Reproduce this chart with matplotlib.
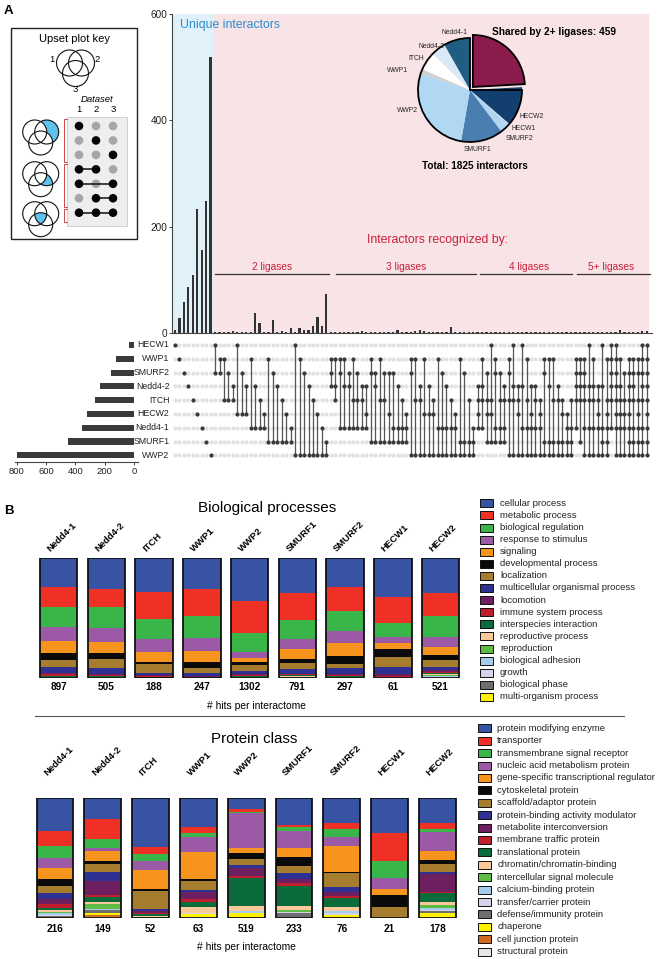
import numpy as np
import matplotlib
matplotlib.use("Agg")
import matplotlib.pyplot as plt
from matplotlib.patches import Rectangle, Circle, Wedge, Polygon

plt.rcParams['font.family'] = ['Liberation Sans', 'DejaVu Sans']

# ---------------- DATA ----------------
ligases = ["HECW1", "WWP1", "SMURF2", "Nedd4-2", "ITCH", "HECW2", "Nedd4-1", "SMURF1", "WWP2"]
set_sizes = [32, 123, 157, 232, 264, 323, 357, 450, 797]
unique_sizes = [5, 29, 59, 86, 109, 233, 156, 248, 519]

shared_sets = [
    # 2 ligases
    "HECW1|SMURF2", "WWP1|SMURF2", "WWP1|ITCH", "SMURF2|ITCH", "Nedd4-2|ITCH",
    "HECW1|HECW2", "SMURF2|HECW2", "Nedd4-2|HECW2", "WWP1|Nedd4-1", "Nedd4-2|Nedd4-1",
    "ITCH|Nedd4-1", "HECW2|Nedd4-1", "WWP1|SMURF1", "SMURF2|SMURF1", "Nedd4-2|SMURF1",
    "ITCH|SMURF1", "HECW2|SMURF1", "Nedd4-1|SMURF1", "HECW1|WWP2", "WWP1|WWP2",
    "SMURF2|WWP2", "Nedd4-2|WWP2", "ITCH|WWP2", "HECW2|WWP2", "Nedd4-1|WWP2", "SMURF1|WWP2",
    # 3 ligases
    "WWP1|SMURF2|Nedd4-2", "WWP1|Nedd4-2|ITCH", "WWP1|SMURF2|Nedd4-1", "WWP1|Nedd4-2|Nedd4-1",
    "SMURF2|Nedd4-2|Nedd4-1", "WWP1|ITCH|Nedd4-1", "SMURF2|ITCH|Nedd4-1", "Nedd4-2|ITCH|Nedd4-1",
    "Nedd4-2|HECW2|Nedd4-1", "WWP1|SMURF2|SMURF1", "SMURF2|Nedd4-2|SMURF1", "WWP1|ITCH|SMURF1",
    "SMURF2|ITCH|SMURF1", "SMURF2|HECW2|SMURF1", "SMURF2|Nedd4-1|SMURF1", "Nedd4-2|Nedd4-1|SMURF1",
    "ITCH|Nedd4-1|SMURF1", "HECW2|Nedd4-1|SMURF1", "WWP1|SMURF2|WWP2", "WWP1|ITCH|WWP2",
    "Nedd4-2|ITCH|WWP2", "WWP1|HECW2|WWP2", "Nedd4-2|HECW2|WWP2", "ITCH|HECW2|WWP2",
    "WWP1|Nedd4-1|WWP2", "SMURF2|Nedd4-1|WWP2", "Nedd4-2|Nedd4-1|WWP2", "ITCH|Nedd4-1|WWP2",
    "HECW2|Nedd4-1|WWP2", "WWP1|SMURF1|WWP2", "SMURF2|SMURF1|WWP2", "ITCH|SMURF1|WWP2",
    "Nedd4-1|SMURF1|WWP2",
    # 4 ligases
    "Nedd4-2|ITCH|HECW2|Nedd4-1", "WWP1|Nedd4-2|ITCH|Nedd4-1", "SMURF2|ITCH|HECW2|SMURF1",
    "HECW1|ITCH|HECW2|SMURF1", "WWP1|SMURF2|Nedd4-1|SMURF1", "SMURF2|ITCH|Nedd4-1|SMURF1",
    "Nedd4-2|ITCH|Nedd4-1|SMURF1", "WWP1|SMURF2|ITCH|WWP2", "HECW1|Nedd4-2|ITCH|WWP2",
    "Nedd4-2|ITCH|HECW2|WWP2", "HECW1|Nedd4-2|Nedd4-1|WWP2", "WWP1|ITCH|Nedd4-1|WWP2",
    "Nedd4-2|HECW2|Nedd4-1|WWP2", "Nedd4-2|ITCH|Nedd4-1|WWP2", "ITCH|HECW2|Nedd4-1|WWP2",
    "WWP1|SMURF2|SMURF1|WWP2", "WWP1|Nedd4-2|SMURF1|WWP2", "WWP1|ITCH|SMURF1|WWP2",
    "Nedd4-2|ITCH|SMURF1|WWP2", "ITCH|HECW2|SMURF1|WWP2", "HECW2|Nedd4-1|SMURF1|WWP2",
    "ITCH|Nedd4-1|SMURF1|WWP2",
    # 5+ ligases
    "WWP1|SMURF2|Nedd4-2|ITCH|Nedd4-1", "WWP1|SMURF2|Nedd4-2|ITCH|SMURF1",
    "WWP1|SMURF2|Nedd4-2|ITCH|Nedd4-1|WWP2", "HECW1|Nedd4-2|ITCH|Nedd4-1|WWP2",
    "WWP1|Nedd4-2|ITCH|Nedd4-1|WWP2", "Nedd4-2|ITCH|HECW2|Nedd4-1|WWP2",
    "HECW1|Nedd4-2|Nedd4-1|SMURF1|WWP2", "WWP1|ITCH|HECW2|Nedd4-1|SMURF1|WWP2",
    "HECW1|WWP1|SMURF2|Nedd4-2|ITCH|Nedd4-1", "HECW1|WWP1|SMURF2|Nedd4-2|ITCH|HECW2|Nedd4-1|WWP2",
    "WWP1|Nedd4-2|ITCH|HECW2|Nedd4-1|WWP2", "SMURF2|ITCH|HECW2|Nedd4-1|WWP2",
    "WWP1|SMURF2|Nedd4-2|ITCH|HECW2|Nedd4-1|SMURF1|WWP2", "WWP1|SMURF2|Nedd4-2|ITCH|Nedd4-1|SMURF1|WWP2",
    "WWP1|SMURF2|ITCH|HECW2|Nedd4-1|SMURF1|WWP2", "HECW1|WWP1|SMURF2|Nedd4-2|ITCH|Nedd4-1|SMURF1|WWP2",
    "HECW1|WWP1|SMURF2|Nedd4-2|ITCH|HECW2|Nedd4-1|SMURF1|WWP2",
]
shared_sizes = [
    1, 1, 2, 1, 3, 1, 2, 1, 1, 37, 19, 1, 1, 24, 2, 4, 2, 9, 1, 9, 6, 6, 14, 31, 14, 74,
    1, 1, 1, 1, 1, 1, 1, 3, 1, 1, 1, 1, 1, 1, 1, 6, 1, 1, 2, 3, 5, 3, 1, 2, 2, 1, 1, 12, 2, 2, 2, 2, 2,
    2, 1, 1, 1, 1, 1, 1, 1, 1, 1, 1, 1, 2, 1, 1, 1, 1, 1, 1, 1, 1, 2,
    1, 1, 1, 1, 1, 1, 1, 1, 1, 1, 6, 1, 1, 1, 2, 4, 3,
]
degree_labels = ["2 ligases", "3 ligases", "4 ligases", "5+ ligases"]

shared_total = 459
pie_order = ["HECW2", "HECW1", "SMURF2", "SMURF1", "WWP2", "WWP1", "ITCH", "Nedd4-2", "Nedd4-1"]

interactomes = ["Nedd4-1", "Nedd4-2", "ITCH", "WWP1", "WWP2", "SMURF1", "SMURF2", "HECW1", "HECW2"]

bp_categories = ["cellular process", "metabolic process", "biological regulation", "response to stimulus",
                 "signaling", "developmental process", "localization", "multicellular organismal process",
                 "locomotion", "immune system process", "interspecies interaction", "reproductive process",
                 "reproduction", "biological adhesion", "growth", "biological phase", "multi-organism process"]
bp_hits = [897, 505, 188, 247, 1302, 791, 297, 61, 521]
bp_pct = [
    [23.7, 16.7, 16.7, 11.7, 10.5, 5.6, 6.1, 5.0, 1.0, 1.0, 0.8, 0.4, 0.4, 0.3, 0.1, 0.1, 0.1],
    [25.6, 15.3, 17.0, 11.7, 9.7, 4.7, 7.8, 5.0, 0.8, 0.8, 0.5, 0.4, 0.3, 0.2, 0.1, 0.1, 0.1],
    [28.3, 22.5, 16.7, 10.3, 8.3, 2.2, 7.5, 1.5, 0.8, 0.8, 0.5, 0.3, 0.2, 0.1, 0.0, 0.0, 0.0],
    [25.8, 22.2, 18.1, 10.8, 9.2, 5.5, 3.7, 2.8, 0.5, 0.5, 0.4, 0.2, 0.2, 0.1, 0.0, 0.0, 0.0],
    [35.3, 27.2, 15.3, 5.0, 3.3, 2.8, 4.7, 3.0, 0.8, 0.8, 0.6, 0.3, 0.4, 0.2, 0.1, 0.1, 0.0],
    [29.2, 22.2, 16.1, 8.9, 7.8, 3.9, 4.4, 4.2, 0.8, 0.8, 0.6, 0.4, 0.8, 0.3, 0.1, 0.1, 0.1],
    [24.2, 19.5, 16.9, 10.3, 10.3, 6.9, 3.6, 5.0, 0.8, 0.8, 0.3, 0.8, 0.3, 0.2, 0.1, 0.1, 0.0],
    [32.5, 21.7, 11.2, 5.0, 5.3, 6.4, 8.3, 6.1, 1.8, 1.8, 0.0, 0.0, 0.0, 0.0, 0.0, 0.0, 0.0],
    [28.3, 19.7, 17.2, 8.3, 6.1, 4.2, 5.6, 3.0, 1.2, 1.2, 0.5, 0.8, 0.8, 1.0, 0.5, 0.5, 0.1],
]

pc_categories = ["protein modifying enzyme", "transporter", "transmembrane signal receptor",
                 "nucleic acid metabolism protein", "gene-specific transcriptional regulator",
                 "cytoskeletal protein", "scaffold/adaptor protein", "protein-binding activity modulator",
                 "metabolite interconversion", "membrane traffic protein", "translational protein",
                 "chromatin/chromatin-binding", "intercellular signal molecule", "calcium-binding protein",
                 "transfer/carrier protein", "defense/immunity protein", "chaperone", "cell junction protein",
                 "structural protein"]
pc_hits = [216, 149, 52, 63, 519, 233, 76, 21, 178]
pc_pct = [
    [27.2, 12.5, 9.7, 8.3, 9.4, 5.8, 5.6, 5.3, 4.2, 3.1, 1.9, 1.7, 1.1, 1.1, 0.8, 0.8, 0.6, 0.6, 0.3],
    [17.5, 16.4, 7.8, 2.2, 8.3, 2.5, 7.2, 7.5, 11.1, 1.9, 4.2, 2.2, 4.2, 0.3, 0.3, 2.2, 1.9, 1.9, 0.8],
    [40.8, 5.6, 5.8, 7.5, 15.8, 1.4, 15.6, 1.7, 1.1, 1.4, 1.1, 0.8, 0.8, 0.3, 0.3, 0.0, 0.0, 0.0, 0.0],
    [24.2, 4.4, 3.9, 11.9, 22.8, 1.4, 7.8, 1.7, 6.1, 1.9, 4.2, 5.0, 0.0, 0.0, 1.4, 0.0, 2.5, 0.0, 0.8],
    [9.2, 2.2, 1.1, 29.2, 4.2, 4.7, 5.0, 2.8, 6.4, 1.9, 23.1, 4.2, 0.0, 1.4, 0.6, 0.0, 3.6, 0.0, 0.6],
    [22.2, 1.7, 3.3, 14.4, 6.9, 7.8, 6.1, 4.7, 3.6, 2.2, 16.7, 3.3, 1.4, 0.0, 1.4, 3.6, 0.0, 0.0, 0.6],
    [20.8, 4.7, 6.4, 7.8, 21.4, 0.8, 12.2, 3.6, 3.6, 1.9, 7.5, 2.8, 0.0, 1.7, 1.9, 0.0, 2.2, 0.0, 0.6],
    [28.6, 23.6, 14.4, 9.2, 4.7, 9.7, 9.7, 0.0, 0.0, 0.0, 0.0, 0.0, 0.0, 0.0, 0.0, 0.0, 0.0, 0.0, 0.0],
    [20.3, 5.6, 1.9, 16.1, 7.5, 3.3, 6.4, 2.2, 14.4, 1.4, 6.9, 2.8, 2.2, 1.9, 0.8, 1.9, 2.8, 0.0, 1.4],
]

# ---------------- STYLE ----------------
palette = ["#3953a4", "#ee3124", "#39b54a", "#9b59a6", "#f7941d", "#0a0a0a", "#a67c2e", "#2e3192",
           "#6d1f5f", "#be1e2d", "#0b6b3a", "#f9c89b", "#5dbb46", "#a5cdee", "#d3d3ea", "#6d6e70",
           "#fff200", "#d2691e", "#e6e6e6"]
pie_colors = {"Shared": "#8c1c4e", "HECW2": "#123f6e", "HECW1": "#cde0f3", "SMURF2": "#b2d6f1",
              "SMURF1": "#4a7db0", "WWP2": "#b0d8f3", "WWP1": "#d0d0d0", "ITCH": "#ffffff",
              "Nedd4-2": "#d9e9f7", "Nedd4-1": "#1f5e82"}
RED = "#c8203a"
BLUE_T = "#2b8ccb"

W, H = 658, 959
fig = plt.figure(figsize=(W / 100, H / 100), dpi=100)


def px_axes(x0, y0, x1, y1):
    return fig.add_axes([x0 / W, 1 - y1 / H, (x1 - x0) / W, (y1 - y0) / H])


# ---------------- UPSET: intersection bars ----------------
inter_sets = ligases + shared_sets
inter_sizes = unique_sizes + shared_sizes
ncol = len(inter_sets)
cols = np.arange(ncol)
X0PX, DX = 175.0, 4.45


def colx(px):
    return (px - X0PX) / DX


xl = (colx(172), colx(652))
axb = px_axes(172, 14, 652, 333)
axb.set_xlim(xl)
axb.set_ylim(0, 600)
axb.axvspan(xl[0], colx(213), color="#e1f1fa", lw=0, zorder=0)
axb.axvspan(colx(213), colx(649), color="#f8e4e7", lw=0, zorder=0)
axb.bar(cols, inter_sizes, width=0.5, color="#333333", zorder=2)
for s in ["top", "right"]:
    axb.spines[s].set_visible(False)
for s in ["left", "bottom"]:
    axb.spines[s].set_color("#444444")
    axb.spines[s].set_linewidth(0.8)
axb.set_xticks([])
axb.set_yticks([0, 200, 400, 600])
axb.tick_params(axis="y", labelsize=7.2, length=2, width=0.6, pad=1.5, colors="#222222")
axb.patch.set_alpha(0)

# ---------------- UPSET: matrix ----------------
rows = np.arange(len(ligases))
axm = px_axes(172, 338.1, 652, 462.2)
axm.set_xlim(xl)
axm.set_ylim(8.5, -0.5)
axm.axis("off")
gx, gy = np.meshgrid(cols, rows)
axm.plot(gx.ravel(), gy.ravel(), "o", ms=3.0, color="#e2e2e2", mec="none", zorder=1)
for i, s in enumerate(inter_sets):
    mem = [ligases.index(m) for m in s.split("|")]
    if len(mem) > 1:
        axm.vlines(i, min(mem), max(mem), color="#555555", lw=0.9, zorder=2)
    axm.plot([i] * len(mem), mem, "o", ms=3.0, color="#3a3a3a", mec="none", zorder=3)
for r, name in enumerate(ligases):
    axm.text(colx(169.5), r, name, ha="right", va="center", fontsize=6.3, color="#222222")

# ---------------- UPSET: set sizes ----------------
axs = px_axes(15, 338.1, 138, 462.2)
axs.set_xlim(811.4, -27.3)
axs.set_ylim(8.5, -0.5)
axs.barh(rows, set_sizes, height=0.44, color="#3a3a3a")
for s in ["top", "right", "left"]:
    axs.spines[s].set_visible(False)
axs.spines["bottom"].set_color("#444444")
axs.spines["bottom"].set_linewidth(0.8)
axs.set_yticks([])
axs.set_xticks([800, 600, 400, 200, 0])
axs.tick_params(axis="x", labelsize=6.8, length=2, width=0.6, pad=1.5, colors="#222222")
axs.patch.set_alpha(0)

# ---------------- PIE ----------------
R, lim, PCX, PCY = 52, 1.25, 470, 90
axp = px_axes(PCX - lim * R, PCY - lim * R, PCX + lim * R, PCY + lim * R)
pie_vals = [shared_total] + [unique_sizes[ligases.index(n)] for n in pie_order]
pie_cols = [pie_colors["Shared"]] + [pie_colors[n] for n in pie_order]
wedges, _ = axp.pie(pie_vals, colors=pie_cols, startangle=90, counterclock=False,
                    explode=[0.08] + [0] * len(pie_order), wedgeprops=dict(lw=0))
axp.set_xlim(-lim, lim)
axp.set_ylim(-lim, lim)
axp.set_aspect("equal")
wedges[0].set_edgecolor("black")
wedges[0].set_linewidth(1.3)
axp.add_patch(Wedge((0, 0), 1, 90, 360, fill=False, ec="black", lw=1.3))
axp.axis("off")

# ---------------- B: stacked bars ----------------
def stacked(x0, x1, y0, y1, pct, colors, width, hits, label_y, num_y):
    ax = px_axes(x0, y0, x1, y1)
    ax.set_xlim(-0.5, 8.5)
    ax.set_ylim(0, 100)
    ax.axis("off")
    p = np.array(pct, dtype=float)
    p = p / p.sum(axis=1, keepdims=True) * 100
    xs = np.arange(len(interactomes))
    top = np.full(len(xs), 100.0)
    for j in range(p.shape[1]):
        ax.bar(xs, p[:, j], bottom=top - p[:, j], width=width, color=colors[j], lw=0, zorder=1)
        top -= p[:, j]
    ax.bar(xs, [100] * len(xs), width=width, fill=False, ec="#111111", lw=1.3, zorder=3)
    hpx = y1 - y0
    upx = (x1 - x0) / 9
    for k, name in enumerate(interactomes):
        ax.text(k - 6.5 / upx, 100 + (y0 - label_y) / hpx * 100, name, rotation=45,
                rotation_mode="anchor", ha="left", va="bottom", fontsize=6.8, fontweight="bold")
        ax.text(k, -(num_y - y1) / hpx * 100, str(hits[k]), ha="center", va="center",
                fontsize=7.2, fontweight="bold")
    return ax


stacked(34.85, 464.35, 558.3, 678.3, bp_pct, palette, 0.786, bp_hits, 553, 687)
stacked(31.1, 461.3, 798.3, 918.3, pc_pct, palette, 0.766, pc_hits, 777, 929)

# ---------------- Overlay (pixel coordinates) ----------------
ov = fig.add_axes([0, 0, 1, 1])
ov.set_xlim(0, W)
ov.set_ylim(H, 0)
ov.axis("off")
ov.patch.set_alpha(0)

ov.text(4, 11, "A", fontsize=9.5, fontweight="bold", va="center")
ov.text(4, 511, "B", fontsize=9.5, fontweight="bold", va="center")

# Upset key box
ov.add_patch(Rectangle((11, 28), 126, 211, fill=False, ec="#222222", lw=1.0))
ov.text(74.5, 38.5, "Upset plot key", ha="center", va="center", fontsize=8)
KEYBLUE = "#5ec2ea"


def circ_pts(c, r, n=360):
    t = np.linspace(0, 2 * np.pi, n, endpoint=False)
    return np.c_[c[0] + r * np.cos(t), c[1] + r * np.sin(t)]


def inter_poly(circles, r):
    pts = []
    for i, c in enumerate(circles):
        p = circ_pts(c, r)
        m = np.ones(len(p), bool)
        for j, o in enumerate(circles):
            if j != i:
                m &= np.hypot(p[:, 0] - o[0], p[:, 1] - o[1]) <= r + 1e-9
        pts.append(p[m])
    pts = np.vstack(pts)
    mc = pts.mean(0)
    ang = np.arctan2(pts[:, 1] - mc[1], pts[:, 0] - mc[0])
    return pts[np.argsort(ang)]


def venn(c1, c2, c3, r, region=None, lw=0.8):
    if region == "only2":
        ov.add_patch(Circle(c2, r, fc=KEYBLUE, ec="none", zorder=2))
        ov.add_patch(Circle(c1, r, fc="white", ec="none", zorder=3))
        ov.add_patch(Circle(c3, r, fc="white", ec="none", zorder=3))
    elif region == "23":
        ov.add_patch(Polygon(inter_poly([c2, c3], r), fc=KEYBLUE, ec="none", zorder=2))
        ov.add_patch(Circle(c1, r, fc="white", ec="none", zorder=3))
    elif region == "123":
        ov.add_patch(Polygon(inter_poly([c1, c2, c3], r), fc=KEYBLUE, ec="none", zorder=2))
    for c in (c1, c2, c3):
        ov.add_patch(Circle(c, r, fill=False, ec="#111111", lw=lw, zorder=4))


venn((69.5, 63), (81.5, 63), (75.5, 73.5), 13)
ov.text(52, 60, "1", fontsize=6.8, ha="center", va="center")
ov.text(97, 60, "2", fontsize=6.8, ha="center", va="center")
ov.text(75.5, 90, "3", fontsize=6.8, ha="center", va="center")

for cy, reg in [(132, "only2"), (173.7, "23"), (213.7, "123")]:
    venn((34.7, cy), (46.7, cy), (40.7, cy + 11), 12, reg)

ov.text(97, 100, "Dataset", fontsize=6.8, style="italic", ha="center", va="center")
kx = [79, 96, 113]
for k, x in enumerate(kx):
    ov.text(x, 109.5, str(k + 1), fontsize=6.8, ha="center", va="center")
ov.add_patch(Rectangle((67, 117), 60, 109, fc="#eeeeee", ec="#cccccc", lw=0.6, zorder=1))
key_rows = [[1, 0, 0], [0, 1, 0], [0, 0, 1], [1, 1, 0], [1, 0, 1], [0, 1, 1], [1, 1, 1]]
for k, pat in enumerate(key_rows):
    y = 126 + 14.45 * k
    on = [kx[j] for j in range(3) if pat[j]]
    for j in range(3):
        if not pat[j]:
            ov.add_patch(Circle((kx[j], y), 4.3, fc="#a6a6a6", ec="none", zorder=2))
    if len(on) > 1:
        ov.plot([min(on), max(on)], [y, y], color="#111111", lw=1.1, zorder=3)
    for x in on:
        ov.add_patch(Circle((x, y), 4.3, fc="#050505", ec="none", zorder=4))
for ya, yb in [(119, 162), (164, 207), (209, 222)]:
    ov.plot([67, 64, 64, 67], [ya, ya, yb, yb], color="#d04848", lw=0.7)

# Upset annotations
ov.text(180, 25, "Unique interactors", color=BLUE_T, fontsize=8.8, ha="left", va="center")
ov.text(367, 240, "Interactors recognized by:", color=RED, fontsize=8.8, ha="left", va="center")
for lab, (xa, xb), xc in zip(degree_labels, [(215, 329), (335.7, 476), (480, 572), (577, 650)],
                             [272, 405.8, 528.7, 611]):
    ov.plot([xa, xb], [273.7, 273.7], color="#333333", lw=0.9)
    ov.text(xc, 266.5, lab, color=RED, fontsize=7.3, ha="center", va="center")

# Pie annotations
ov.text(491.7, 32, "Shared by 2+ ligases: 459", fontsize=7.3, fontweight="bold", ha="left", va="center")
ov.text(421.7, 166, "Total: 1825 interactors", fontsize=7.2, fontweight="bold", ha="left", va="center")
for name, (x, y) in {"Nedd4-1": (455, 33), "Nedd4-2": (431.5, 47), "ITCH": (416, 58.5),
                     "WWP1": (398, 70), "WWP2": (407, 110), "HECW2": (532, 116),
                     "HECW1": (524, 129), "SMURF2": (519, 138.5), "SMURF1": (478, 149.5)}.items():
    ov.text(x, y, name, fontsize=4.9, ha="center", va="center", color="#222222")

# Panel B titles
ov.text(267.5, 508, "Biological processes", fontsize=11, ha="center", va="center")
ov.text(256.5, 706, "# hits per interactome", fontsize=7.4, ha="center", va="center")
ov.plot([35, 624], [716, 716], color="#555555", lw=0.8)
ov.text(254.3, 739, "Protein class", fontsize=10.9, ha="center", va="center")
ov.text(246.3, 947, "# hits per interactome", fontsize=7.4, ha="center", va="center")

# Legends
for k, cat in enumerate(bp_categories):
    y = 503.3 + 12.1 * k
    ov.add_patch(Rectangle((480, y - 4), 13, 8, fc=palette[k], ec="#111111", lw=0.7))
    ov.text(500, y, cat, fontsize=6.8, ha="left", va="center", color="#222222")
for k, cat in enumerate(pc_categories):
    y = 728.3 + 12.41 * k
    ov.add_patch(Rectangle((477.5, y - 4), 13, 8, fc=palette[k], ec="#111111", lw=0.7))
    ov.text(497.3, y, cat, fontsize=6.8, ha="left", va="center", color="#222222")

fig.savefig("out.png", dpi=100)
